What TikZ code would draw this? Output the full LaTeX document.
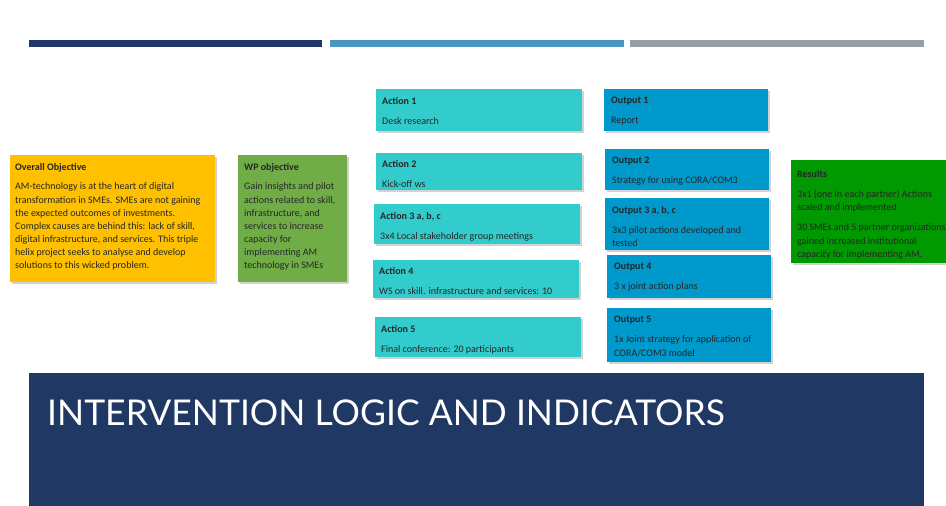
\documentclass[tikz,border=0pt]{standalone}
\usepackage{fontspec}
\setmainfont{Carlito}
\newfontfamily\titlefont{Lato}
\usetikzlibrary{shadows}
\definecolor{navy}{HTML}{1F3864}
\definecolor{barblue}{HTML}{4A96C0}
\definecolor{bargray}{HTML}{989EA6}
\definecolor{objyellow}{HTML}{FFC000}
\definecolor{wpgreen}{HTML}{70AD47}
\definecolor{actteal}{HTML}{33CCCC}
\definecolor{outblue}{HTML}{0099CC}
\definecolor{resgreen}{HTML}{009900}

\begin{document}
\begin{tikzpicture}[x=1pt,y=-1pt,
  box/.style={anchor=north west,inner sep=0pt,
    drop shadow={shadow xshift=1.5pt,shadow yshift=-1.5pt,opacity=0.35}},
  txt/.style={anchor=north west,inner sep=0pt,align=left,
    font=\fontsize{10}{13.4}\selectfont,text=black!85}]
  \useasboundingbox (0,0) rectangle (946,506);
  \fill[white] (0,0) rectangle (946,506);
  % top bars
  \fill[navy] (29,40) rectangle (322,47);
  \fill[barblue] (330,40) rectangle (624,47);
  \fill[bargray] (630,40) rectangle (924,47);
  % banner
  \fill[navy] (29,373) rectangle (924,506);
  \node[anchor=west,inner sep=0pt,text=white,font=\titlefont\fontsize{35.5}{35.5}\selectfont] (title) at (47,413) {INTERVENTION LOGIC AND INDICATORS};

  % objectives
  \node[box,fill=objyellow,minimum width=205,minimum height=127] (obj) at (10,155) {};
  \node[txt,font=\fontsize{10}{13.1}\selectfont] (objtxt) at ([shift={(5,8)}]obj.north west) {\textbf{Overall Objective}\\[6.6pt]
    AM-technology is at the heart of digital\\
    transformation in SMEs. SMEs are not gaining\\
    the expected outcomes of investments.\\
    Complex causes are behind this: lack of skill,\\
    digital infrastructure, and services. This triple\\
    helix project seeks to analyse and develop\\
    solutions to this wicked problem.};
  \node[box,fill=wpgreen,minimum width=109,minimum height=127] (wp) at (238,155) {};
  \node[txt,font=\fontsize{10}{13.1}\selectfont] (wptxt) at ([shift={(6,8)}]wp.north west) {\textbf{WP objective}\\[6.6pt]
    Gain insights and pilot\\
    actions related to skill,\\
    infrastructure, and\\
    services to increase\\
    capacity for\\
    implementing AM\\
    technology in SMEs};

  % actions
  \node[box,fill=actteal,minimum width=206,minimum height=42] (a1) at (376,89) {};
  \node[txt] (a1txt) at ([shift={(6,8)}]a1.north west) {\textbf{Action 1}\\[6.5pt]Desk research};
  \node[box,fill=actteal,minimum width=206,minimum height=37] (a2) at (376,153) {};
  \node[txt] (a2txt) at ([shift={(6,7)}]a2.north west) {\textbf{Action 2}\\[6.5pt]Kick-off ws};
  \node[box,fill=actteal,minimum width=206,minimum height=40] (a3) at (374,204) {};
  \node[txt] (a3txt) at ([shift={(6,8)}]a3.north west) {\textbf{Action 3 a, b, c}\\[6.5pt]3x4 Local stakeholder group meetings};
  \node[box,fill=actteal,minimum width=206,minimum height=38] (a4) at (373,260) {};
  \node[txt] (a4txt) at ([shift={(6,7)}]a4.north west) {\textbf{Action 4}\\[6.5pt]WS on skill. infrastructure and services: 10};
  \node[box,fill=actteal,minimum width=206,minimum height=40] (a5) at (375,317) {};
  \node[txt] (a5txt) at ([shift={(6,8)}]a5.north west) {\textbf{Action 5}\\[6.5pt]Final conference: 20 participants};

  % outputs
  \node[box,fill=outblue,minimum width=164,minimum height=42] (o1) at (604,89) {};
  \node[txt] (o1txt) at ([shift={(7,8)}]o1.north west) {\textbf{Output 1}\\[6.5pt]Report};
  \node[box,fill=outblue,minimum width=164,minimum height=41] (o2) at (605,149) {};
  \node[txt] (o2txt) at ([shift={(7,8)}]o2.north west) {\textbf{Output 2}\\[6.5pt]Strategy for using CORA/COM3};
  \node[box,fill=outblue,minimum width=164,minimum height=52] (o3) at (605,198) {};
  \node[txt] (o3txt) at ([shift={(7,8)}]o3.north west) {\textbf{Output 3 a, b, c}\\[6.5pt]3x3 pilot actions developed and\\tested};
  \node[box,fill=outblue,minimum width=164,minimum height=43] (o4) at (607,255) {};
  \node[txt] (o4txt) at ([shift={(7,8)}]o4.north west) {\textbf{Output 4}\\[6.5pt]3 x joint action plans};
  \node[box,fill=outblue,minimum width=164,minimum height=54] (o5) at (607,308) {};
  \node[txt] (o5txt) at ([shift={(7,8)}]o5.north west) {\textbf{Output 5}\\[6.5pt]1x Joint strategy for application of\\CORA/COM3 model};

  % results
  \node[box,fill=resgreen,minimum width=165,minimum height=103] (res) at (791,160) {};
  \node[txt] (restxt) at ([shift={(6,10)}]res.north west) {\textbf{Results}\\[6.5pt]
    3x1 (one in each partner) Actions\\
    scaled and implemented\\[7pt]
    30 SMEs and 5 partner organizations\\
    gained increased institutional\\
    capacity for implementing AM.};
\end{tikzpicture}
\end{document}
